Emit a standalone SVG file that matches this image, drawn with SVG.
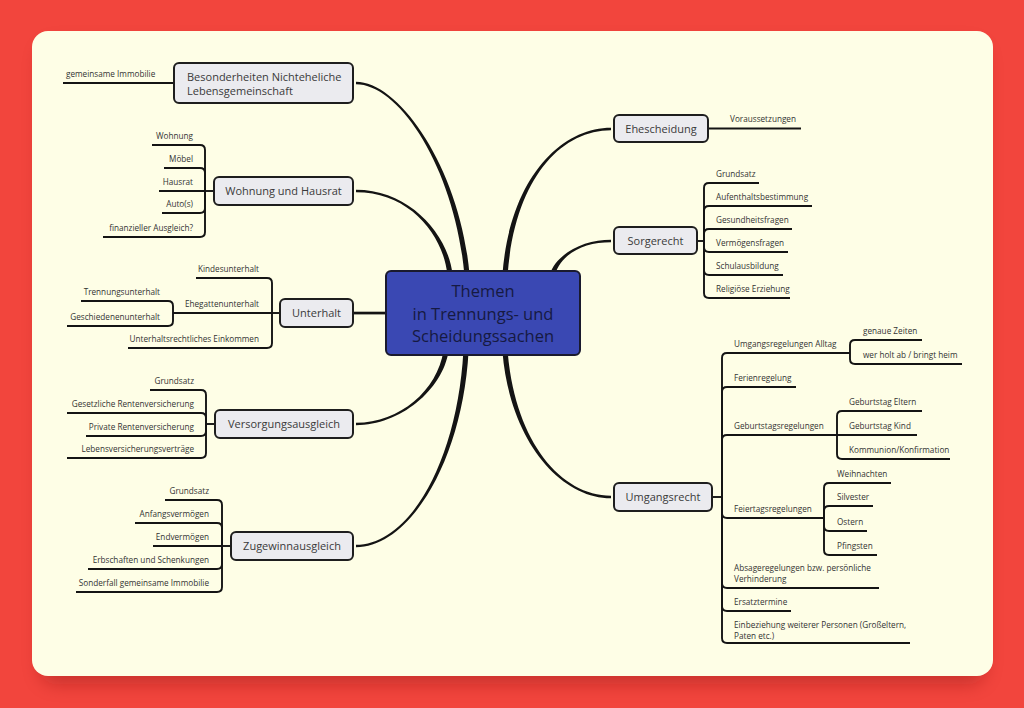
<svg xmlns="http://www.w3.org/2000/svg" width="1024" height="708" viewBox="0 0 1024 708">
<defs>
<filter id="shadow" x="-10%" y="-10%" width="120%" height="130%"><feGaussianBlur stdDeviation="9"/></filter>
<style>
.node rect{fill:#ebebef;stroke:#1e1e1e;stroke-width:2}
.nt{font-family:"Open Sans","Liberation Sans",sans-serif;font-size:11px;fill:#3a3a3a}
.lt{font-family:"Open Sans","Liberation Sans",sans-serif;font-size:8.2px;fill:#333}
.ct{font-family:"Open Sans","Liberation Sans",sans-serif;font-size:16.5px;fill:#161a42;text-anchor:middle}
.ln{fill:none;stroke:#141414;stroke-width:1.9}
.br{fill:#141414;stroke:none}
.e{text-anchor:end}
.c{text-anchor:middle}
</style>
</defs>
<rect x="0" y="0" width="1024" height="708" fill="#f2453d"/>
<rect x="40" y="44" width="945" height="640" rx="16" fill="#7a1010" opacity="0.35" filter="url(#shadow)"/>
<rect x="32" y="31" width="961" height="645" rx="16" fill="#fefee6"/>

<g id="connectors">
<!-- main branches (tapered) -->
<path class="br" d="M469.6,275 C460.6,170 400,81.8 356,81.8 L356,84.2 C400,84.2 455.4,170 464.4,275 Z"/>
<path class="br" d="M452.6,275 C448.6,235 410,189.8 356,189.8 L356,192.2 C410,192.2 443.4,235 447.4,275 Z"/>
<rect class="br" x="353" y="311.7" width="36" height="2.7"/>
<path class="br" d="M448.6,351 C442.6,390 400,425.2 356,425.2 L356,422.8 C400,422.8 437.4,390 443.4,351 Z"/>
<path class="br" d="M468.6,351 C462.6,460 410,547.2 356,547.2 L356,544.8 C410,544.8 457.4,460 463.4,351 Z"/>
<path class="br" d="M507.6,275 C514.6,180 560,130.2 611,130.2 L611,127.8 C560,127.8 509.4,180 502.4,275 Z"/>
<path class="br" d="M554.6,275 C562.6,252 585,242.2 611,242.2 L611,239.8 C585,239.8 557.4,252 549.4,275 Z"/>
<path class="br" d="M507.6,351 C514.6,440 560,495.8 611,495.8 L611,498.2 C560,498.2 509.4,440 502.4,351 Z"/>

<!-- Besonderheiten -->
<path class="ln" d="M174,83 L63,83"/>
<!-- Wohnung und Hausrat -->
<path class="ln" d="M214,191 L205,191"/>
<path class="ln" d="M205,191 L205,150 Q205,145 200,145 L152,145"/>
<path class="ln" d="M205,191 L205,173 Q205,168 200,168 L164,168"/>
<path class="ln" d="M205,191 L159,191"/>
<path class="ln" d="M205,191 L205,208 Q205,213 200,213 L162,213"/>
<path class="ln" d="M205,191 L205,232 Q205,237 200,237 L103,237"/>
<!-- Unterhalt -->
<path class="ln" d="M280,313 L272,313"/>
<path class="ln" d="M272,313 L272,283 Q272,278 267,278 L196,278"/>
<path class="ln" d="M272,313 L173,313"/>
<path class="ln" d="M173,313 L173,306 Q173,301 168,301 L81,301"/>
<path class="ln" d="M173,313 L173,321 Q173,326 168,326 L67,326"/>
<path class="ln" d="M272,313 L272,343 Q272,348 267,348 L128,348"/>
<!-- Versorgungsausgleich -->
<path class="ln" d="M215,424 L206,424"/>
<path class="ln" d="M206,424 L206,395 Q206,390 201,390 L150,390"/>
<path class="ln" d="M206,424 L206,418 Q206,413 201,413 L67,413"/>
<path class="ln" d="M206,424 L206,431 Q206,436 201,436 L86,436"/>
<path class="ln" d="M206,424 L206,453 Q206,458 201,458 L67,458"/>
<!-- Zugewinnausgleich -->
<path class="ln" d="M231,546 L222,546"/>
<path class="ln" d="M222,546 L222,505 Q222,500 217,500 L165,500"/>
<path class="ln" d="M222,546 L222,528 Q222,523 217,523 L135,523"/>
<path class="ln" d="M222,546 L153,546"/>
<path class="ln" d="M222,546 L222,564 Q222,569 217,569 L88,569"/>
<path class="ln" d="M222,546 L222,587 Q222,592 217,592 L76,592"/>
<!-- Ehescheidung -->
<path class="ln" d="M708,128.5 L801,128.5"/>
<!-- Sorgerecht -->
<path class="ln" d="M697,241 L704,241"/>
<path class="ln" d="M704,241 L704,188 Q704,183 709,183 L759,183"/>
<path class="ln" d="M704,241 L704,211 Q704,206 709,206 L812,206"/>
<path class="ln" d="M704,241 L704,234 Q704,229 709,229 L792,229"/>
<path class="ln" d="M704,241 L704,247 Q704,252 709,252 L788,252"/>
<path class="ln" d="M704,241 L704,270 Q704,275 709,275 L783,275"/>
<path class="ln" d="M704,241 L704,293 Q704,298 709,298 L790,298"/>
<!-- Umgangsrecht -->
<path class="ln" d="M712,497 L722,497"/>
<path class="ln" d="M722,497 L722,358 Q722,353 727,353 L850,353"/>
<path class="ln" d="M850,353 L850,345 Q850,340 855,340 L922,340"/>
<path class="ln" d="M850,353 L850,359 Q850,364 855,364 L962,364"/>
<path class="ln" d="M722,497 L722,392 Q722,387 727,387 L796,387"/>
<path class="ln" d="M722,497 L722,440 Q722,435 727,435 L837,435"/>
<path class="ln" d="M837,435 L837,416 Q837,411 842,411 L922,411"/>
<path class="ln" d="M837,435 L917,435"/>
<path class="ln" d="M837,435 L837,454 Q837,459 842,459 L950,459"/>
<path class="ln" d="M722,497 L722,513 Q722,518 727,518 L824,518"/>
<path class="ln" d="M824,518 L824,488 Q824,483 829,483 L891,483"/>
<path class="ln" d="M824,518 L824,511 Q824,506 829,506 L873,506"/>
<path class="ln" d="M824,518 L824,526 Q824,531 829,531 L867,531"/>
<path class="ln" d="M824,518 L824,550 Q824,555 829,555 L877,555"/>
<path class="ln" d="M722,497 L722,583 Q722,588 727,588 L879,588"/>
<path class="ln" d="M722,497 L722,606 Q722,611 727,611 L791,611"/>
<path class="ln" d="M722,497 L722,638 Q722,643 727,643 L910,643"/>
</g>

<g id="center">
<rect x="386" y="271" width="194" height="84" rx="5" fill="#3a48b3" stroke="#1a1a2e" stroke-width="2"/>
<text x="483" y="297" class="ct">Themen</text>
<text x="483" y="319.5" class="ct">in Trennungs- und</text>
<text x="483" y="342" class="ct">Scheidungssachen</text>
</g>

<g id="n-besonderheiten" class="node"><rect x="174" y="63" width="179" height="40" rx="5"/>
<text x="187" y="81" class="nt">Besonderheiten Nichteheliche</text>
<text x="187" y="95" class="nt">Lebensgemeinschaft</text></g>
<g id="n-wohnung" class="node"><rect x="214" y="177" width="139" height="28" rx="5"/><text x="283.5" y="195" class="nt c">Wohnung und Hausrat</text></g>
<g id="n-unterhalt" class="node"><rect x="280" y="299" width="73" height="28" rx="5"/><text x="316.5" y="317" class="nt c">Unterhalt</text></g>
<g id="n-versorgung" class="node"><rect x="215" y="410" width="138" height="28" rx="5"/><text x="284" y="428" class="nt c">Versorgungsausgleich</text></g>
<g id="n-zugewinn" class="node"><rect x="231" y="532" width="122" height="28" rx="5"/><text x="292" y="550" class="nt c">Zugewinnausgleich</text></g>
<g id="n-ehescheidung" class="node"><rect x="614" y="115" width="94" height="27" rx="5"/><text x="661" y="132.5" class="nt c">Ehescheidung</text></g>
<g id="n-sorgerecht" class="node"><rect x="614" y="227" width="83" height="27" rx="5"/><text x="655.5" y="244.5" class="nt c">Sorgerecht</text></g>
<g id="n-umgangsrecht" class="node"><rect x="614" y="483" width="98" height="28" rx="5"/><text x="663" y="501" class="nt c">Umgangsrecht</text></g>

<g id="l-immobilie"><text x="66" y="77" class="lt">gemeinsame Immobilie</text></g>
<g id="l-wohnung"><text x="193" y="139" class="lt e">Wohnung</text></g>
<g id="l-moebel"><text x="193" y="162" class="lt e">Möbel</text></g>
<g id="l-hausrat"><text x="193" y="185" class="lt e">Hausrat</text></g>
<g id="l-auto"><text x="193" y="207" class="lt e">Auto(s)</text></g>
<g id="l-ausgleich"><text x="193" y="231" class="lt e">finanzieller Ausgleich?</text></g>
<g id="l-kindes"><text x="259" y="272" class="lt e">Kindesunterhalt</text></g>
<g id="l-ehegatten"><text x="259" y="307" class="lt e">Ehegattenunterhalt</text></g>
<g id="l-trennung"><text x="160" y="295" class="lt e">Trennungsunterhalt</text></g>
<g id="l-geschieden"><text x="160" y="320" class="lt e">Geschiedenenunterhalt</text></g>
<g id="l-einkommen"><text x="259" y="342" class="lt e">Unterhaltsrechtliches Einkommen</text></g>
<g id="l-v-grundsatz"><text x="194" y="384" class="lt e">Grundsatz</text></g>
<g id="l-gesetzlich"><text x="194" y="407" class="lt e">Gesetzliche Rentenversicherung</text></g>
<g id="l-privat"><text x="194" y="430" class="lt e">Private Rentenversicherung</text></g>
<g id="l-lebens"><text x="194" y="452" class="lt e">Lebensversicherungsverträge</text></g>
<g id="l-z-grundsatz"><text x="209" y="494" class="lt e">Grundsatz</text></g>
<g id="l-anfang"><text x="209" y="517" class="lt e">Anfangsvermögen</text></g>
<g id="l-end"><text x="209" y="540" class="lt e">Endvermögen</text></g>
<g id="l-erbschaft"><text x="209" y="563" class="lt e">Erbschaften und Schenkungen</text></g>
<g id="l-sonderfall"><text x="209" y="586" class="lt e">Sonderfall gemeinsame Immobilie</text></g>
<g id="l-voraus"><text x="730" y="122" class="lt">Voraussetzungen</text></g>
<g id="l-s-grundsatz"><text x="716" y="177" class="lt">Grundsatz</text></g>
<g id="l-aufenthalt"><text x="716" y="200" class="lt">Aufenthaltsbestimmung</text></g>
<g id="l-gesundheit"><text x="716" y="223" class="lt">Gesundheitsfragen</text></g>
<g id="l-vermoegen"><text x="716" y="246" class="lt">Vermögensfragen</text></g>
<g id="l-schul"><text x="716" y="269" class="lt">Schulausbildung</text></g>
<g id="l-religion"><text x="716" y="292" class="lt">Religiöse Erziehung</text></g>
<g id="l-alltag"><text x="734" y="347" class="lt">Umgangsregelungen Alltag</text></g>
<g id="l-zeiten"><text x="863" y="334" class="lt">genaue Zeiten</text></g>
<g id="l-holt"><text x="863" y="358" class="lt">wer holt ab / bringt heim</text></g>
<g id="l-ferien"><text x="734" y="381" class="lt">Ferienregelung</text></g>
<g id="l-geburtstag"><text x="734" y="429" class="lt">Geburtstagsregelungen</text></g>
<g id="l-eltern"><text x="849" y="405" class="lt">Geburtstag Eltern</text></g>
<g id="l-kind"><text x="849" y="429" class="lt">Geburtstag Kind</text></g>
<g id="l-kommunion"><text x="849" y="453" class="lt">Kommunion/Konfirmation</text></g>
<g id="l-feiertag"><text x="734" y="512" class="lt">Feiertagsregelungen</text></g>
<g id="l-weihnachten"><text x="837" y="477" class="lt">Weihnachten</text></g>
<g id="l-silvester"><text x="837" y="500" class="lt">Silvester</text></g>
<g id="l-ostern"><text x="837" y="525" class="lt">Ostern</text></g>
<g id="l-pfingsten"><text x="837" y="549" class="lt">Pfingsten</text></g>
<g id="l-absage"><text x="734" y="571" class="lt">Absageregelungen bzw. persönliche</text><text x="734" y="581.5" class="lt">Verhinderung</text></g>
<g id="l-ersatz"><text x="734" y="605" class="lt">Ersatztermine</text></g>
<g id="l-einbeziehung"><text x="734" y="627.5" class="lt">Einbeziehung weiterer Personen (Großeltern,</text><text x="734" y="638.5" class="lt">Paten etc.)</text></g>
</svg>
